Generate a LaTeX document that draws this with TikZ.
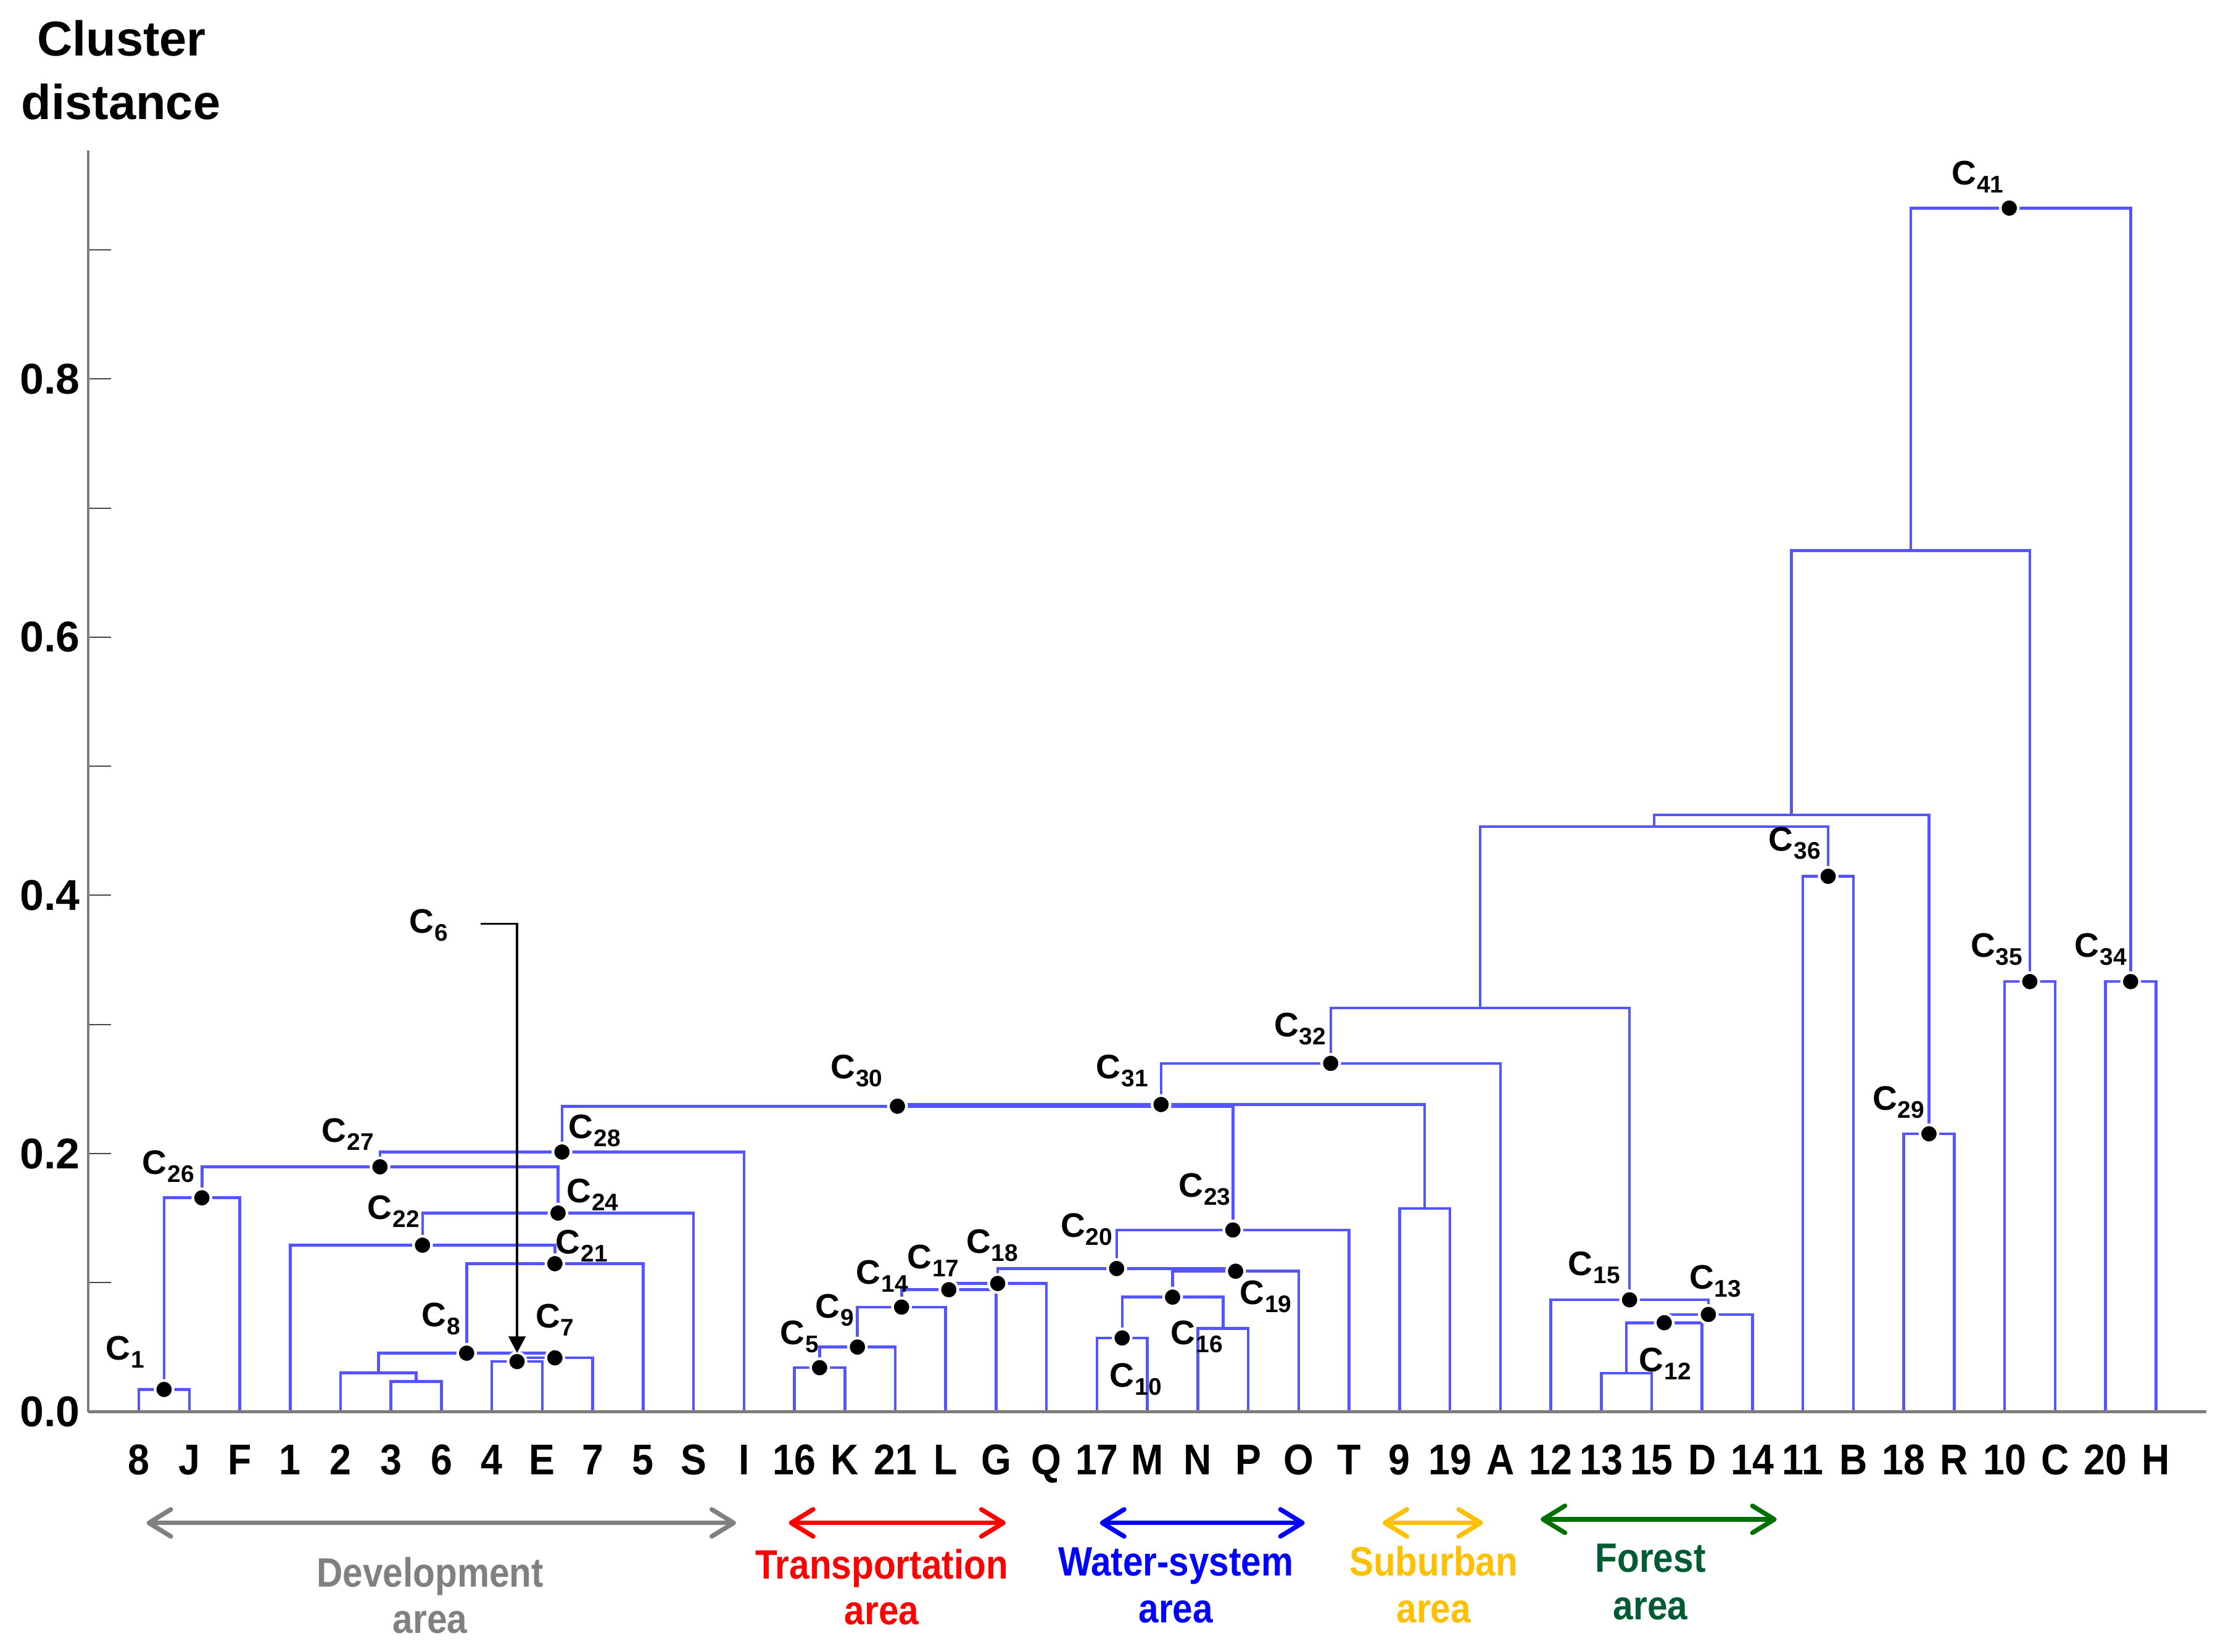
\documentclass[tikz,border=0pt]{standalone}
\usepackage{fontspec}
\setmainfont{Liberation Sans}
\newfontfamily\narrowbf[FakeStretch=0.88]{Liberation Sans}
\newfontfamily\leafbf[FakeStretch=0.9]{Liberation Sans}
\usetikzlibrary{arrows.meta,calc}
\definecolor{dendc}{RGB}{85,85,255}
\definecolor{axisgray}{RGB}{125,125,125}
\definecolor{tickgray}{RGB}{70,70,70}
\definecolor{devgray}{RGB}{128,128,128}
\definecolor{transred}{RGB}{255,0,0}
\definecolor{waterblue}{RGB}{0,0,255}
\definecolor{suburbgold}{RGB}{255,192,0}
\definecolor{forestarrow}{RGB}{0,112,0}
\definecolor{foresttext}{RGB}{0,90,50}
\newcommand\clabtxt[1]{C\kern0.3pt\raisebox{-4pt}{\fontsize{12}{12}\selectfont #1}}
\newcommand\dmerge[4]{%
  \path ($(#2)!0.5!(#3)$) coordinate (h#1);
  \coordinate (y#1) at (0,#4);
  \coordinate (#1) at (h#1 |- y#1);
  \draw[dendro] (#2) |- (#1) -| (#3);
}
\begin{document}
\begin{tikzpicture}[x=0.025cm,y=-0.025cm,
  dendro/.style={draw=dendc, line width=1.4pt},
  dotc/.style={fill=black, draw=white, line width=1.35pt},
  leaflab/.style={font=\leafbf\fontsize{21.5}{21.5}\selectfont\bfseries, anchor=base, inner sep=0pt},
  ticklab/.style={font=\fontsize{21.5}{21.5}\selectfont\bfseries, inner sep=0pt},
  clab/.style={font=\fontsize{17}{17}\selectfont\bfseries, inner sep=0pt},
  areatxt/.style={font=\narrowbf\fontsize{20.5}{20.5}\selectfont\bfseries, anchor=base, inner sep=0pt},
  areaarrow/.style={line width=2.3pt, {Straight Barb[length=11pt,width=13.5pt,round]}-{Straight Barb[length=11pt,width=13.5pt,round]}},
  axisline/.style={draw=axisgray, line width=1.4pt},
  tickline/.style={draw=tickgray, line width=0.6pt},
  ptr/.style={draw=black, line width=1pt, -{Triangle[length=8.3pt,width=8.5pt]}, shorten >=4.3pt},
  titletxt/.style={font=\fontsize{24.5}{24.5}\selectfont\bfseries, anchor=base, inner sep=0pt}
]
\useasboundingbox (0,0) rectangle (1568,1161);
\fill[white] (0,0) rectangle (1568,1161);

% title
\node[titletxt] (title1) at (85.4,39.4) {Cluster};
\node[titletxt] (title2) at (85,84) {distance};

% ticks
\foreach \v in {1,...,9} {
  \draw[tickline] (62,{992.4-90.75*\v}) -- (78,{992.4-90.75*\v});
}
\foreach \v/\t in {0/0.0,2/0.2,4/0.4,6/0.6,8/0.8} {
  \node[ticklab] (tk\v) at (35,{992.4-90.75*\v}) {\t};
}

% leaves
\foreach \lab [count=\i from 0] in {8,J,F,1,2,3,6,4,E,7,5,S,I,16,K,21,L,G,Q,17,M,N,P,O,T,9,19,A,12,13,15,D,14,11,B,18,R,10,C,20,H} {
  \coordinate (l\i) at ({97.6+35.44*\i},992.5);
  \node[leaflab] (t\i) at ({97.6+35.44*\i},1036.6) {\lab};
}

% dendrogram
\dmerge{C1}{l0}{l1}{976.7}
\dmerge{C26}{C1}{l2}{842}
\dmerge{P36}{l5}{l6}{971}
\dmerge{P236}{l4}{P36}{965}
\dmerge{C6}{l7}{l8}{957.1}
\dmerge{C7}{C6}{l9}{954.5}
\dmerge{C8}{P236}{C7}{951.2}
\dmerge{C21}{C8}{l10}{888.3}
\dmerge{C22}{l3}{C21}{875.3}
\dmerge{C24}{C22}{l11}{852.7}
\dmerge{C27}{C26}{C24}{820.2}
\dmerge{C28}{C27}{l12}{809.8}
\dmerge{C5}{l13}{l14}{961.4}
\dmerge{C9}{C5}{l15}{946.9}
\dmerge{C14}{C9}{l16}{918.8}
\dmerge{C17}{C14}{l17}{906.6}
\dmerge{C18}{C17}{l18}{902.2}
\dmerge{C10}{l19}{l20}{940.5}
\dmerge{PNP}{l21}{l22}{933.7}
\dmerge{C16}{C10}{PNP}{911.8}
\dmerge{C19}{C16}{l23}{893.6}
\dmerge{C20}{C18}{C19}{891.7}
\dmerge{C23}{C20}{l24}{864.6}
\dmerge{C30}{C28}{C23}{777.6}
\dmerge{P919}{l25}{l26}{849.5}
\dmerge{C31}{C30}{P919}{776.4}
\dmerge{C32}{C31}{l27}{747.5}
\dmerge{P1315}{l29}{l30}{965.3}
\dmerge{C12}{P1315}{l31}{929.8}
\dmerge{C13}{C12}{l32}{924}
\dmerge{C15}{l28}{C13}{913.7}
\dmerge{C33}{C32}{C15}{708.6}
\dmerge{C36}{l33}{l34}{616}
\dmerge{C37}{C33}{C36}{581.1}
\dmerge{C29}{l35}{l36}{797}
\dmerge{C38}{C37}{C29}{572.8}
\dmerge{C35}{l37}{l38}{690}
\dmerge{C39}{C38}{C35}{387}
\dmerge{C34}{l39}{l40}{690}
\dmerge{C41}{C39}{C34}{146.3}

% axes
\coordinate (axtop) at (62,106);
\coordinate (axorig) at (62,992.5);
\coordinate (axright) at (1550.5,992.5);
\draw[axisline] (axtop) -- (axorig);
\draw[axisgray, line width=1.6pt] (axorig) -- (axright);

% dots
\foreach \n in {C1,C26,C27,C28,C24,C22,C21,C8,C7,C6,C5,C9,C14,C17,C18,C10,C16,C19,C20,C23,C30,C31,C32,C12,C13,C15,C36,C29,C35,C34} {
  \draw[dotc] (\n) circle[radius=4.5pt];
}
\draw[dotc] ([xshift=-5.7pt]C41) circle[radius=4.5pt];

% cluster labels
\node[clab] (lC1) at (87.9,950.3) {\clabtxt{1}};
\node[clab] (lC26) at (118.3,820) {\clabtxt{26}};
\node[clab] (lC27) at (244.5,797.5) {\clabtxt{27}};
\node[clab] (lC28) at (418,795) {\clabtxt{28}};
\node[clab] (lC24) at (416.4,839.8) {\clabtxt{24}};
\node[clab] (lC22) at (276.5,851.5) {\clabtxt{22}};
\node[clab] (lC21) at (408.8,875.8) {\clabtxt{21}};
\node[clab] (lC8) at (310,927) {\clabtxt{8}};
\node[clab] (lC7) at (390,928) {\clabtxt{7}};
\node[clab] (lC6) at (301.4,650.5) {\clabtxt{6}};
\node[clab] (lC30) at (602,752.7) {\clabtxt{30}};
\node[clab] (lC31) at (788.6,752.7) {\clabtxt{31}};
\node[clab] (lC32) at (913.7,723.4) {\clabtxt{32}};
\node[clab] (lC23) at (846.7,836) {\clabtxt{23}};
\node[clab] (lC20) at (763.7,864) {\clabtxt{20}};
\node[clab] (lC18) at (697.3,875.6) {\clabtxt{18}};
\node[clab] (lC17) at (655.9,886.3) {\clabtxt{17}};
\node[clab] (lC14) at (620,897) {\clabtxt{14}};
\node[clab] (lC9) at (586.7,921) {\clabtxt{9}};
\node[clab] (lC5) at (561.9,939.5) {\clabtxt{5}};
\node[clab] (lC10) at (798.3,969.5) {\clabtxt{10}};
\node[clab] (lC16) at (841.2,939.5) {\clabtxt{16}};
\node[clab] (lC19) at (889.6,911.4) {\clabtxt{19}};
\node[clab] (lC15) at (1120.4,891) {\clabtxt{15}};
\node[clab] (lC13) at (1205.5,900.7) {\clabtxt{13}};
\node[clab] (lC12) at (1170.2,958.8) {\clabtxt{12}};
\node[clab] (lC36) at (1261.3,592.6) {\clabtxt{36}};
\node[clab] (lC29) at (1334.3,775) {\clabtxt{29}};
\node[clab] (lC35) at (1403.3,667.2) {\clabtxt{35}};
\node[clab] (lC34) at (1476.4,667.2) {\clabtxt{34}};
\node[clab] (lC41) at (1390,124.3) {\clabtxt{41}};

% C6 pointer
\coordinate (c6s) at (337.8,649.5);
\draw[ptr] (c6s) -| (C6);

% area arrows
\coordinate (devL) at (103,1070.5);   \coordinate (devR) at (517.3,1070.5);
\coordinate (trL) at (554.4,1070.5);  \coordinate (trR) at (706.8,1070.5);
\coordinate (waL) at (773,1070.5);    \coordinate (waR) at (917,1070.5);
\coordinate (suL) at (971.7,1070.5);  \coordinate (suR) at (1042.3,1070.5);
\coordinate (foL) at (1082.8,1068);   \coordinate (foR) at (1248.7,1068);
\draw[areaarrow, devgray] (devL) -- (devR);
\draw[areaarrow, transred] (trL) -- (trR);
\draw[areaarrow, waterblue] (waL) -- (waR);
\draw[areaarrow, suburbgold] (suL) -- (suR);
\draw[areaarrow, forestarrow] (foL) -- (foR);

% area labels
\node[areatxt, text=devgray] (dev1) at (302.3,1115.3) {Development};
\node[areatxt, text=devgray] (dev2) at (302.3,1148) {area};
\node[areatxt, text=transred] (tr1) at (619.7,1109.7) {Transportation};
\node[areatxt, text=transred] (tr2) at (619.7,1142) {area};
\node[areatxt, text=waterblue] (wa1) at (826.4,1107.5) {Water-system};
\node[areatxt, text=waterblue] (wa2) at (826.4,1140.5) {area};
\node[areatxt, text=suburbgold] (su1) at (1007.6,1107.5) {Suburban};
\node[areatxt, text=suburbgold] (su2) at (1007.6,1140.5) {area};
\node[areatxt, text=foresttext] (fo1) at (1160,1104.9) {Forest};
\node[areatxt, text=foresttext] (fo2) at (1160,1138.4) {area};
\end{tikzpicture}
\end{document}
